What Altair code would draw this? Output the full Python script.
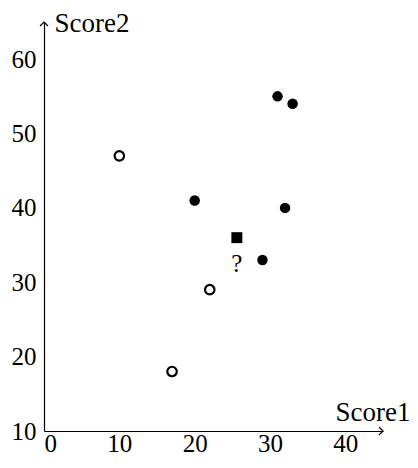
import altair as alt
import pandas as pd

# data
open_x = [10, 22, 17]
open_y = [47, 29, 18]
filled_x = [20, 31, 33, 32, 29]
filled_y = [41, 55, 54, 40, 33]
query_x = [25.6]
query_y = [36]
query_label = ["?"]
x_ticks = [0, 10, 20, 30, 40]
y_ticks = [10, 20, 30, 40, 50, 60]
x_max = 45
y_min, y_max = 10, 65

FONT = "Liberation Serif"
W, H = 339, 409

open_df = pd.DataFrame({"Score1": open_x, "Score2": open_y})
filled_df = pd.DataFrame({"Score1": filled_x, "Score2": filled_y})
query_df = pd.DataFrame({"Score1": query_x, "Score2": query_y, "label": query_label})
xarrow_df = pd.DataFrame({"Score1": [x_max], "Score2": [y_min]})
yarrow_df = pd.DataFrame({"Score1": [0], "Score2": [y_max]})

xs = alt.Scale(domain=[0, x_max], nice=False, zero=False)
ys = alt.Scale(domain=[y_min, y_max], nice=False, zero=False)

x_axis = alt.Axis(
    values=x_ticks, grid=False, ticks=False, domainColor="black", domainWidth=1.2,
    labelFont=FONT, labelFontSize=25, labelColor="black", labelPadding=0,
    title="Score1", titleFont=FONT, titleFontSize=27, titleFontWeight="normal",
    titleColor="black", titleAlign="right", titleBaseline="alphabetic",
    titleX=W + 27, titleY=-11, titleAnchor="end",
)
y_axis = alt.Axis(
    values=y_ticks, grid=False, ticks=False, domainColor="black", domainWidth=1.2,
    labelFont=FONT, labelFontSize=25, labelColor="black", labelPadding=8,
    title="Score2", titleFont=FONT, titleFontSize=27, titleFontWeight="normal",
    titleColor="black", titleAngle=0, titleAlign="left", titleBaseline="alphabetic",
    titleX=10, titleY=9,
)

base_x = alt.X("Score1:Q", scale=xs, axis=x_axis)
base_y = alt.Y("Score2:Q", scale=ys, axis=y_axis)

opens = alt.Chart(open_df).mark_point(
    shape="circle", filled=False, color="black", strokeWidth=2.2, size=90, opacity=1
).encode(x=base_x, y=base_y)

filled = alt.Chart(filled_df).mark_point(
    shape="circle", filled=True, color="black", size=110, opacity=1
).encode(x="Score1:Q", y="Score2:Q")

query = alt.Chart(query_df).mark_point(
    shape="square", filled=True, color="black", size=120, opacity=1
).encode(x="Score1:Q", y="Score2:Q")

qtext = alt.Chart(query_df).mark_text(
    font=FONT, fontSize=25, color="black", dy=26, baseline="middle"
).encode(x="Score1:Q", y="Score2:Q", text="label:N")

xarrow = alt.Chart(xarrow_df).mark_point(
    shape="M-1,-1L0,0L-1,1", filled=False, color="black", strokeWidth=1.2, size=64, opacity=1
).encode(x="Score1:Q", y="Score2:Q")

yarrow = alt.Chart(yarrow_df).mark_point(
    shape="M-1,1L0,0L1,1", filled=False, color="black", strokeWidth=1.2, size=64, opacity=1
).encode(x="Score1:Q", y="Score2:Q")

chart = alt.layer(opens, filled, query, qtext, xarrow, yarrow).properties(
    width=W, height=H,
    background="white",
    autosize=alt.AutoSizeParams(type="none"),
    padding={"left": 36, "top": 14, "right": 27, "bottom": 29},
).configure_view(strokeWidth=0, stroke="transparent")

chart.save("out.html", embed_options={"renderer": "svg", "actions": False})
